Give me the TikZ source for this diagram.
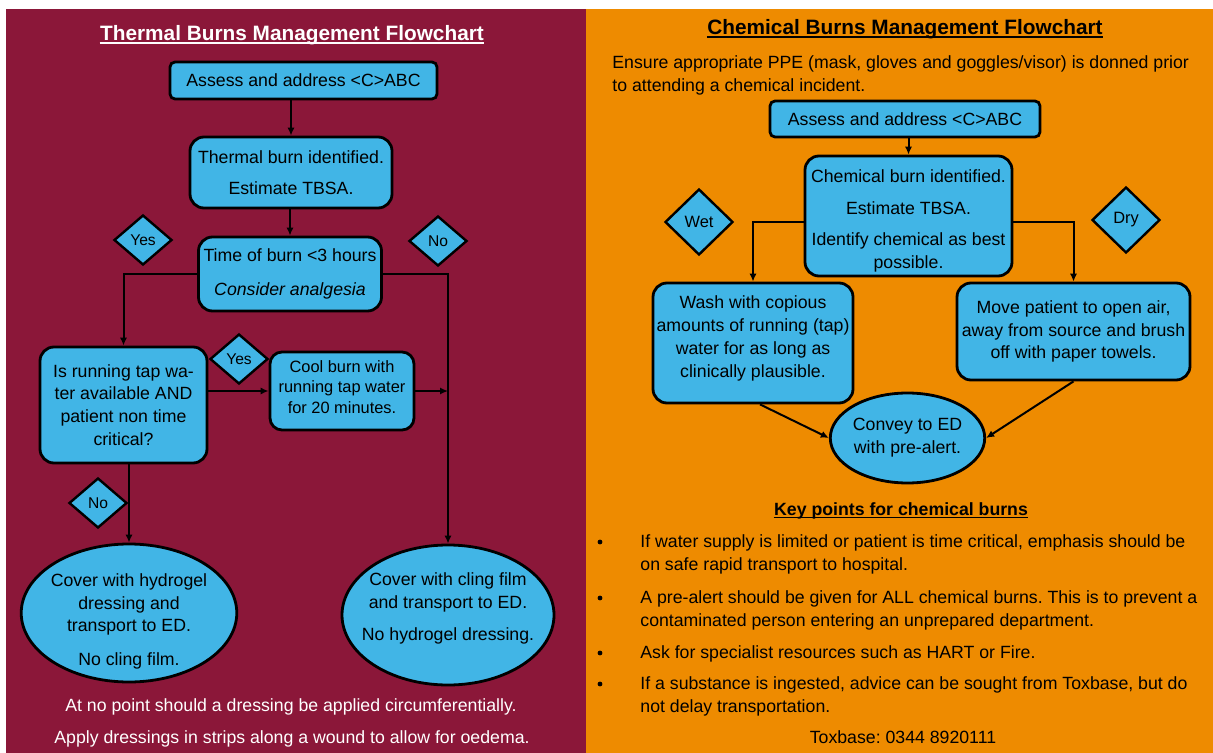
\documentclass[tikz,border=0pt]{standalone}
\usepackage{fontspec}
\setmainfont{Liberation Sans}
\usetikzlibrary{arrows.meta,positioning,shapes.geometric}
\definecolor{wine}{HTML}{8B1739}
\definecolor{amber}{HTML}{EE8B00}
\definecolor{sky}{HTML}{41B5E6}
\newcommand\bodysize{\fontsize{8.85}{11.4}\selectfont}
\frenchspacing

\begin{document}
\begin{tikzpicture}[x=0.5pt,y=-0.5pt,
    font=\bodysize,
    bar/.style={draw=black,line width=1.4pt,rounded corners=2.5pt,fill=sky,
      inner sep=1pt,align=center},
    card/.style={bar,rounded corners=7pt},
    oval/.style={ellipse,draw=black,line width=1.4pt,fill=sky,inner sep=0pt,align=center},
    choice/.style={diamond,draw=black,line width=1.2pt,fill=sky,inner sep=0pt,
      minimum width=29pt,minimum height=25pt,font=\fontsize{7.8}{9}\selectfont},
    dot/.style={circle,fill=black,inner sep=0pt,minimum size=2.4pt},
    arr/.style={-{Latex[length=4pt,width=3.6pt]},line width=1pt,draw=black},
    heading/.style={font=\fontsize{10.4}{12}\selectfont\bfseries,inner sep=0pt,anchor=base},
    plain/.style={inner sep=0pt,align=left,anchor=north west},
    rule/.style={line width=1.2pt}
  ]
  \useasboundingbox (0,0) rectangle (1213,753);
  \fill[white] (0,0) rectangle (1213,753);
  \fill[wine] (6,9) rectangle (586,753);
  \fill[amber] (586,9) rectangle (1213,753);

  % thermal burns
  \node[heading,text=white] (tTitle) at (292,40.5) {Thermal Burns Management Flowchart};
  \draw[rule,white] ([yshift=-1.4pt]tTitle.base west) -- ([yshift=-1.4pt]tTitle.base east);
  \node[bar,minimum width=133.5pt,minimum height=18.5pt] (tAssess) at (303.5,80.5) {Assess and address <C>ABC};
  \node[card,minimum width=101pt,minimum height=35.5pt] (tIdent) at (291,172.5) {Thermal burn identified.\\[4.2pt]Estimate TBSA.};
  \node[card,minimum width=91.5pt,minimum height=37pt] (tTime) at (290,274) {Time of burn <3 hours\\[5.2pt]\textit{Consider analgesia}};
  \node[choice] (tYesA) at (143,240) {Yes};
  \node[choice] (tNoA) at (438,241) {No};
  \node[card,minimum width=83.5pt,minimum height=58pt] (tTap) at (123.5,405) {Is running tap wa-\\ter available AND\\patient non time\\critical?};
  \node[choice] (tYesB) at (239,359) {Yes};
  \node[card,rounded corners=6pt,minimum width=72pt,minimum height=39pt,
    font=\fontsize{8.2}{10.25}\selectfont] (tCool) at (342,391) {Cool burn with\\running tap water\\for 20 minutes.\rule[-4pt]{0pt}{4pt}};
  \node[choice] (tNoB) at (98,503) {No};
  \node[oval,inner xsep=-1pt,inner ysep=-4pt,minimum width=107pt,minimum height=69pt] (tHydro) at (129,613) {\rule{0pt}{14.5pt}Cover with hydrogel\\dressing and\\transport to ED.\\[5.2pt]No cling film.};
  \node[oval,inner xsep=-5.7pt,inner ysep=-3pt,minimum width=106pt,minimum height=70pt] (tCling) at (448,615) {Cover with cling film\\and transport to ED.\\[4.7pt]No hydrogel dressing.\rule[-8pt]{0pt}{8pt}};
  \node[inner sep=0pt,anchor=base,text=white] (tNoteA) at (291,711) {At no point should a dressing be applied circumferentially.};
  \node[inner sep=0pt,anchor=base,text=white] (tNoteB) at (292,743) {Apply dressings in strips along a wound to allow for oedema.};

  \draw[arr] (tIdent.north |- tAssess.south) -- (tIdent.north);
  \draw[arr] (tTime.north |- tIdent.south) -- (tTime.north);
  \draw[arr] (tTime.west) -| (tTap.north);
  \draw[arr] (tTime.east) -| (tCling.north);
  \draw[arr] (tTap.east |- tCool.west) -- (tCool.west);
  \draw[arr] (tCool.east) -- (tCool.east -| tCling.north);
  \draw[arr] (tTap.south -| tHydro.north) -- (tHydro.north);

  % chemical burns
  \node[heading] (cTitle) at (905,34.5) {Chemical Burns Management Flowchart};
  \draw[rule] ([yshift=-1.4pt]cTitle.base west) -- ([yshift=-1.4pt]cTitle.base east);
  \node[plain] (cPPE) at (612,55) {Ensure appropriate PPE (mask, gloves and goggles/visor) is donned prior\\to attending a chemical incident.};
  \node[bar,minimum width=135pt,minimum height=18pt] (cAssess) at (905,119) {Assess and address <C>ABC};
  \node[card,minimum width=103.5pt,minimum height=60pt] (cIdent) at (908.5,216) {\rule{0pt}{11.5pt}Chemical burn identified.\\[4.7pt]Estimate TBSA.\\[4.2pt]Identify chemical as best\\possible.};
  \node[choice,minimum width=34pt,minimum height=33pt,font=\fontsize{8.2}{10}\selectfont] (cWet) at (699,222) {Wet};
  \node[choice,minimum width=34pt,minimum height=33pt,font=\fontsize{8.2}{10}\selectfont] (cDry) at (1126,220) {Dry};
  \node[card,minimum width=100pt,minimum height=60pt] (cWash) at (753,343) {Wash with copious\\amounts of running (tap)\\water for as long as\\clinically plausible.\rule[-6.4pt]{0pt}{6.4pt}};
  \node[card,minimum width=116.5pt,minimum height=48.5pt] (cMove) at (1073.5,331.5) {Move patient to open air,\\away from source and brush\\off with paper towels.};
  \node[oval,minimum width=75.5pt,minimum height=45pt] (cConvey) at (907.5,438) {Convey to ED\\with pre-alert.};

  \draw[arr] (cIdent.north |- cAssess.south) -- (cIdent.north);
  \draw[arr] ([yshift=-3pt]cIdent.west) -| (cWash.north);
  \draw[arr] ([yshift=-3pt]cIdent.east) -| (cMove.north);
  \draw[arr] ([xshift=3.5pt]cWash.south) -- (cConvey.west);
  \draw[arr] (cMove.south) -- (cConvey.east);

  % key points
  \node[inner sep=0pt,anchor=base,font=\bodysize\bfseries] (cKey) at (901,515) {Key points for chemical burns};
  \draw[line width=0.9pt] ([yshift=-1.2pt]cKey.base west) -- ([yshift=-1.2pt]cKey.base east);
  \node[dot] (cDotA) at (600,542) {};
  \node[plain] (cPtA) at (640,534) {If water supply is limited or patient is time critical, emphasis should be\\on safe rapid transport to hospital.};
  \node[dot] (cDotB) at (600,598) {};
  \node[plain] (cPtB) at (640,590) {A pre-alert should be given for ALL chemical burns. This is to prevent a\\contaminated person entering an unprepared department.};
  \node[dot] (cDotC) at (600,653) {};
  \node[plain] (cPtC) at (640,645) {Ask for specialist resources such as HART or Fire.};
  \node[dot] (cDotD) at (600,684) {};
  \node[plain] (cPtD) at (640,676) {If a substance is ingested, advice can be sought from Toxbase, but do\\not delay transportation.};
  \node[inner sep=0pt,anchor=base] (cTox) at (903,743) {Toxbase: 0344 8920111};
\end{tikzpicture}
\end{document}
